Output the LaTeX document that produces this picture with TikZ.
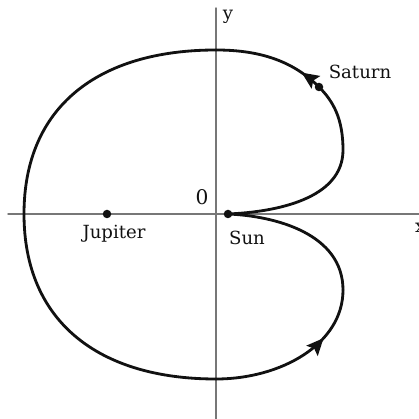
\documentclass[tikz,border=0pt]{standalone}
\usepackage{fontspec}
\setmainfont{DejaVu Serif}
\usepackage{xcolor}
\usetikzlibrary{arrows.meta,positioning,decorations.markings}
\definecolor{axisgray}{HTML}{777777}
\definecolor{ink}{HTML}{111111}
\tikzset{
    every picture/.style={line cap=round,line join=round},
    axisline/.style={draw=axisgray,line width=0.8pt},
    orbit/.style={draw=ink,line width=1.6pt},
    planet/.style={circle,fill=ink,inner sep=0pt,minimum size=1.7mm},
    planetlabel/.style={font=\fontsize{10.3}{12}\selectfont,text=ink,inner sep=1pt},
    midarrow/.style={postaction={decorate,decoration={markings,
      mark=at position #1 with {\arrow{Stealth[length=3.4mm,width=3mm,inset=0.6mm]}}}}}
}
\begin{document}
\begin{tikzpicture}
  \useasboundingbox (-4.32,-4.10) rectangle (4.04,4.28);
  % axes
  \coordinate (xl) at (-4.16,0);
  \coordinate (xr) at (4.10,0);
  \coordinate (yb) at (0,-4.12);
  \coordinate (yt) at (0,4.12);
  \draw[axisline] (xl) -- (xr);
  \draw[axisline] (yb) -- (yt);
  \node[planetlabel,anchor=west] (xlab) at (3.94,-0.28) {x};
  \node[planetlabel] (ylab) at (0.24,3.94) {y};
  \node[planetlabel,font=\fontsize{11.5}{13}\selectfont] (zero) at (-0.28,0.34) {0};
  % points of the orbit
  \coordinate (sun) at (0.24,0);
  \coordinate (up) at (2.54,1.28);
  \coordinate (sat) at (2.06,2.54);
  \coordinate (top) at (0,3.28);
  \coordinate (left) at (-3.84,0);
  \coordinate (bot) at (0,-3.30);
  \coordinate (low) at (2.54,-1.52);
  % orbit
  \draw[orbit] (sun) .. controls (1.2,0.04) and (2.54,0.3) .. (up)
    .. controls (2.54,1.9) and (2.35,2.25) .. (sat);
  \draw[orbit,midarrow=0.2] (sat) .. controls (1.5,3.1) and (0.8,3.28) .. (top);
  \draw[orbit] (top) .. controls (-2.35,3.28) and (-3.84,2.15) .. (left)
    .. controls (-3.84,-2.15) and (-2.35,-3.30) .. (bot);
  \draw[orbit,midarrow=0.69] (bot) .. controls (1.3,-3.30) and (2.54,-2.6) .. (low);
  \draw[orbit] (low) .. controls (2.54,-0.4) and (1.2,-0.04) .. (sun);
  % bodies
  \node[planet] (sunp) at (sun) {};
  \node[planet] (satp) at (sat) {};
  \node[planet] (jup) at (-2.18,0) {};
  \node[planetlabel] (sunlab) at (0.62,-0.48) {Sun};
  \node[planetlabel] (satlab) at (2.88,2.84) {Saturn};
  \node[planetlabel] (juplab) at (-2.04,-0.40) {Jupiter};
\end{tikzpicture}
\end{document}
